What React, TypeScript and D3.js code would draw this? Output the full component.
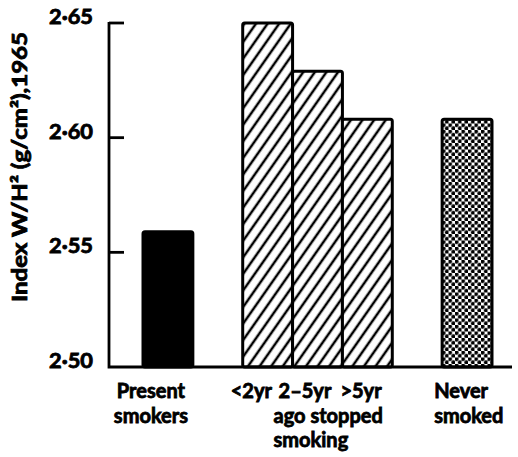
import { useEffect, useRef } from "react"
import * as d3 from "d3"

// Bar categories, their index values and fill styles
const categories = ["Present smokers", "<2yr", "2–5yr", ">5yr", "Never smoked"]
const values = [2.559, 2.65, 2.629, 2.608, 2.608]
const fillKinds = ["solid", "hatch", "hatch", "hatch", "dots"]

// x slots (gaps separate the three groups)
const slots = ["Present smokers", "gap-a", "<2yr", "2–5yr", ">5yr", "gap-b", "Never smoked"]

// y axis
const yTicks = [2.5, 2.55, 2.6, 2.65]
const yTickLabels = ["2·50", "2·55", "2·60", "2·65"]
const yTitle = "Index W/H² (g/cm²),1965"

// category labels under the axis
const labelPresent = ["Present", "smokers"]
const labelStopped = ["ago stopped", "smoking"]
const labelNever = ["Never", "smoked"]

export default function App() {
  const svgRef = useRef<SVGSVGElement>(null)

  useEffect(() => {
    const width = 518
    const height = 457
    const svg = d3.select(svgRef.current)
    svg.selectAll("*").remove()
    svg.attr("width", width).attr("height", height)

    const font = "Lato, 'DejaVu Sans', sans-serif"
    const axisX = 109
    const baseY = 367

    const y = d3.scaleLinear().domain([2.5, 2.65]).range([baseY, 23])
    const x = d3.scaleBand<string>().domain(slots).range([143, 492]).padding(0)

    const defs = svg.append("defs")

    // diagonal hatching
    const hatch = defs.append("pattern")
      .attr("id", "hatch")
      .attr("patternUnits", "userSpaceOnUse")
      .attr("width", 9.5)
      .attr("height", 9.5)
      .attr("patternTransform", "rotate(35)")
    hatch.append("rect").attr("width", 9.5).attr("height", 9.5).attr("fill", "white")
    hatch.append("line")
      .attr("x1", 4.75).attr("y1", -1).attr("x2", 4.75).attr("y2", 11)
      .attr("stroke", "black").attr("stroke-width", 2.5)

    // dotted stipple
    const dots = defs.append("pattern")
      .attr("id", "dots")
      .attr("patternUnits", "userSpaceOnUse")
      .attr("width", 6.5)
      .attr("height", 6.5)
    dots.append("rect").attr("width", 6.5).attr("height", 6.5).attr("fill", "white")
    dots.append("circle").attr("cx", 1.6).attr("cy", 1.6).attr("r", 2).attr("fill", "black")
    dots.append("circle").attr("cx", 4.85).attr("cy", 4.85).attr("r", 2).attr("fill", "black")

    const fillFor = (k: string) => (k === "solid" ? "black" : k === "hatch" ? "url(#hatch)" : "url(#dots)")

    // bars
    svg.append("g")
      .selectAll("rect")
      .data(categories)
      .enter()
      .append("rect")
      .attr("x", d => x(d)!)
      .attr("y", (d, i) => y(values[i]))
      .attr("width", x.bandwidth())
      .attr("height", (d, i) => baseY - y(values[i]))
      .attr("rx", 2)
      .attr("fill", (d, i) => fillFor(fillKinds[i]))
      .attr("stroke", "black")
      .attr("stroke-width", 3)

    // axes
    svg.append("path")
      .attr("d", `M${axisX},${y(2.65) - 1}V${baseY}H${512}`)
      .attr("fill", "none")
      .attr("stroke", "black")
      .attr("stroke-width", 2.8)

    svg.append("g")
      .selectAll("line")
      .data(yTicks.filter(t => t > 2.5))
      .enter()
      .append("line")
      .attr("x1", axisX)
      .attr("x2", axisX + 15)
      .attr("y1", d => y(d))
      .attr("y2", d => y(d))
      .attr("stroke", "black")
      .attr("stroke-width", 2.8)

    // heavy lettering: bold face plus a thin outline
    const heavy = (sel: any) => sel
      .attr("font-family", font)
      .attr("font-weight", "bold")
      .attr("font-size", 20)
      .attr("stroke", "black")
      .attr("stroke-width", 0.8)

    svg.append("g")
      .call(heavy)
      .selectAll("text")
      .data(yTicks)
      .enter()
      .append("text")
      .attr("x", 93)
      .attr("y", d => y(d) + 1)
      .attr("text-anchor", "end")
      .attr("textLength", 44)
      .attr("lengthAdjust", "spacingAndGlyphs")
      .text((d, i) => yTickLabels[i])

    svg.append("text")
      .call(heavy)
      .attr("transform", `translate(27,167) rotate(-90)`)
      .attr("text-anchor", "middle")
      .attr("textLength", 270)
      .attr("lengthAdjust", "spacingAndGlyphs")
      .text(yTitle)

    // category labels
    const lab = svg.append("g").call(heavy)

    const cx = (c: string) => x(c)! + x.bandwidth() / 2

    lab.selectAll(".present")
      .data(labelPresent)
      .enter()
      .append("text")
      .attr("x", cx("Present smokers") - 17)
      .attr("y", (d, i) => 398 + i * 25)
      .attr("text-anchor", "middle")
      .text(d => d)

    const stoppedOffsets = [-12, -14, -2]
    lab.selectAll(".stopped")
      .data(categories.slice(1, 4))
      .enter()
      .append("text")
      .attr("x", (d, i) => x(d)! + stoppedOffsets[i])
      .attr("y", 398)
      .text(d => d)

    lab.selectAll(".ago")
      .data(labelStopped)
      .enter()
      .append("text")
      .attr("x", x("2–5yr")! - 19)
      .attr("y", (d, i) => 423 + i * 24)
      .text(d => d)

    lab.selectAll(".never")
      .data(labelNever)
      .enter()
      .append("text")
      .attr("x", x("Never smoked")! - 8)
      .attr("y", (d, i) => 398 + i * 25)
      .text(d => d)
  }, [])

  return (
    <div style={{ position: "absolute", left: 0, top: 0, background: "white" }}>
      <svg ref={svgRef} style={{ display: "block" }}></svg>
    </div>
  )
}
